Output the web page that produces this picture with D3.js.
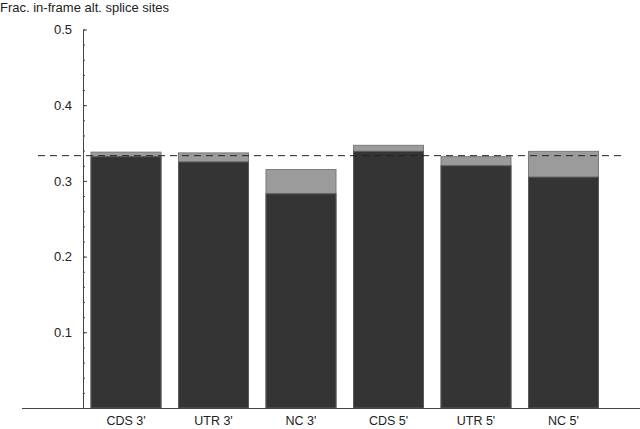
<!DOCTYPE html>
<html>
<head>
  <meta charset="utf-8">
  <style>
    body { margin: 0; background: #fff; }
    text { font-family: "Liberation Sans", Arial, sans-serif; fill: #222; }
  </style>
  <script src="https://d3js.org/d3.v7.min.js"></script>
</head>
<body>
  <div id="chart"></div>
  <script>
    // data
    var categories = ["CDS 3'", "UTR 3'", "NC 3'", "CDS 5'", "UTR 5'", "NC 5'"];
    var lowerValues = [0.332, 0.325, 0.283, 0.339, 0.320, 0.305]; // dark part
    var upperValues = [0.338, 0.337, 0.315, 0.347, 0.332, 0.339]; // top of grey part
    var yTicks = [0.1, 0.2, 0.3, 0.4, 0.5];
    var refLine = 1 / 3;

    var width = 640, height = 429;

    var svg = d3.select("#chart").append("svg")
      .attr("width", width)
      .attr("height", height);

    var x = d3.scaleBand()
      .domain(categories)
      .range([91, 598.5])
      .paddingInner(0.2)
      .paddingOuter(0);

    var y = d3.scaleLinear()
      .domain([0, 0.5])
      .range([408, 29.5]);

    // grey top part (full height), then dark part over it
    svg.selectAll(".upper")
      .data(upperValues)
      .enter().append("rect")
      .attr("class", "upper")
      .attr("x", function (d, i) { return x(categories[i]); })
      .attr("y", function (d) { return y(d); })
      .attr("width", x.bandwidth())
      .attr("height", function (d) { return y(0) - y(d); })
      .attr("fill", "#9b9b9b")
      .attr("stroke", "#7b7b7b")
      .attr("stroke-width", 1);

    svg.selectAll(".lower")
      .data(lowerValues)
      .enter().append("rect")
      .attr("class", "lower")
      .attr("x", function (d, i) { return x(categories[i]); })
      .attr("y", function (d) { return y(d); })
      .attr("width", x.bandwidth())
      .attr("height", function (d) { return y(0) - y(d); })
      .attr("fill", "#353435")
      .attr("stroke", "#5a5a5a")
      .attr("stroke-width", 1);

    // dashed 1/3 reference line
    svg.append("line")
      .attr("x1", 38)
      .attr("x2", 624)
      .attr("y1", y(refLine))
      .attr("y2", y(refLine))
      .attr("stroke", "#222")
      .attr("stroke-width", 1)
      .attr("stroke-dasharray", "7,5");

    // minor ticks
    var minor = svg.append("g")
      .attr("transform", "translate(83,0)")
      .call(d3.axisLeft(y)
        .tickValues(d3.range(0, 0.5001, 0.02))
        .tickSize(-2)
        .tickSizeOuter(0)
        .tickFormat(""));
    minor.select(".domain").remove();
    minor.selectAll("line").attr("stroke", "#444");

    // major ticks + labels
    var yAxis = svg.append("g")
      .attr("transform", "translate(83,0)")
      .call(d3.axisLeft(y)
        .tickValues(yTicks)
        .tickSize(-4)
        .tickSizeOuter(0)
        .tickPadding(11)
        .tickFormat(d3.format(".1f")));
    yAxis.select(".domain").attr("stroke", "#444");
    yAxis.selectAll("line").attr("stroke", "#444");
    yAxis.selectAll("text")
      .style("font-family", "'Liberation Sans', Arial, sans-serif")
      .style("font-size", "13px")
      .attr("fill", "#222");

    // bottom baseline
    svg.append("line")
      .attr("x1", 22)
      .attr("x2", 640)
      .attr("y1", y(0) + 0.5)
      .attr("y2", y(0) + 0.5)
      .attr("stroke", "#444")
      .attr("stroke-width", 1);

    // category labels
    svg.selectAll(".cat")
      .data(categories)
      .enter().append("text")
      .attr("class", "cat")
      .attr("x", function (d) { return x(d) + x.bandwidth() / 2; })
      .attr("y", 425)
      .attr("text-anchor", "middle")
      .style("font-size", "12.5px")
      .text(function (d) { return d; });

    // y title
    svg.append("text")
      .attr("x", 0)
      .attr("y", 12)
      .style("font-size", "13px")
      .text("Frac. in-frame alt. splice sites");
  </script>
</body>
</html>
